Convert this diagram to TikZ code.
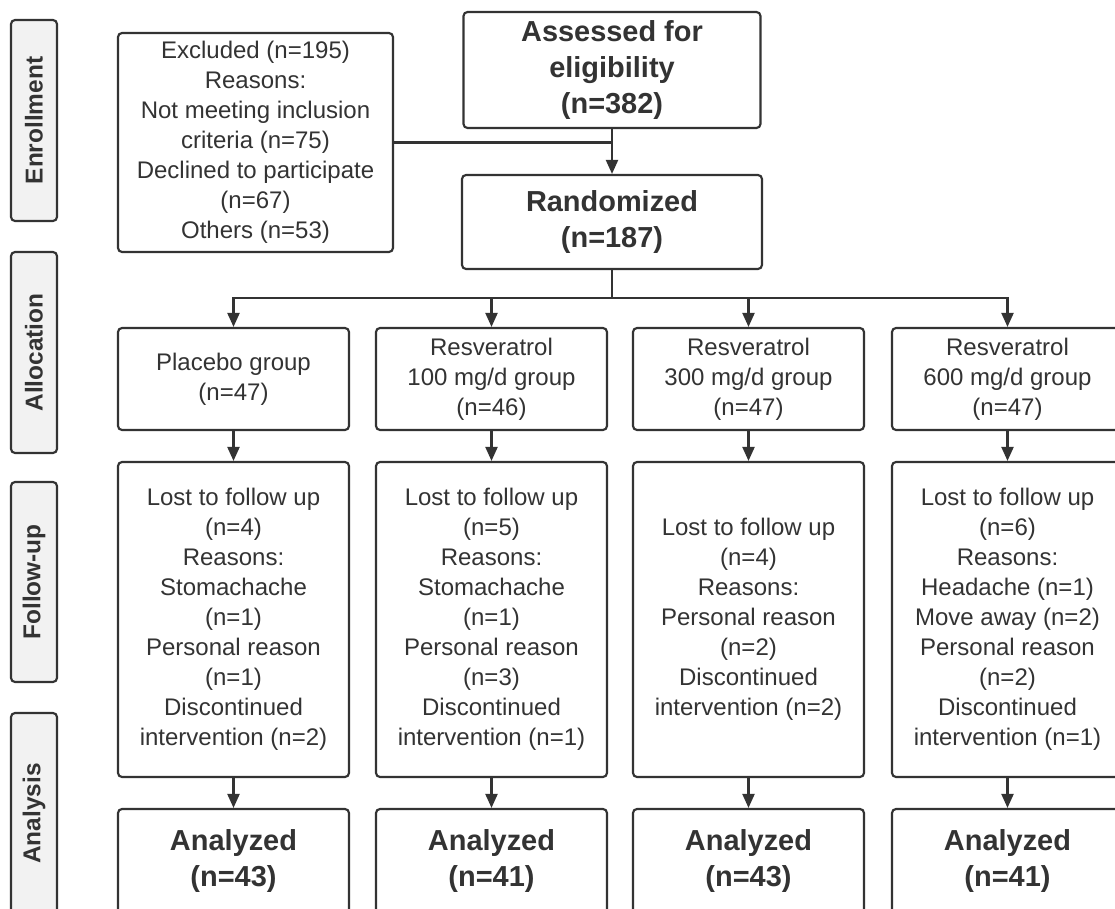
\documentclass[tikz,border=0pt]{standalone}
\usepackage{fontspec}
\setmainfont{Liberation Sans}
\usetikzlibrary{arrows.meta}
\definecolor{ln}{HTML}{333333}
\definecolor{tx}{HTML}{333333}
\definecolor{stg}{HTML}{F2F2F2}
\tikzset{
  sz/.style 2 args={minimum width={#1*0.75pt}, minimum height={#2*0.75pt}},
  box/.style={draw=ln, line width=1.6pt, rounded corners=3pt, fill=white, text=tx, align=center, inner sep=0pt, font=\fontsize{18}{22.5}\selectfont},
  bbox/.style={box, font=\fontsize{21.7}{27}\selectfont\bfseries},
  stage/.style={box, fill=stg, font=\fontsize{18.3}{20}\selectfont\bfseries, rotate=90},
  arr/.style={draw=ln, line width=1.6pt, -{Triangle[length=10.5pt,width=9pt]}},
  conn/.style={draw=ln, line width=1.6pt},
}
\begin{document}
\begin{tikzpicture}[x=0.75pt,y=-0.75pt]
\useasboundingbox (0,0) rectangle (1115,909);
\clip (0,0) rectangle (1115,909);
\fill[white] (0,0) rectangle (1115,909);

% stage labels
\node[stage, sz={201}{46}] (s1) at (34,120.5) {Enrollment};
\node[stage, sz={201}{46}] (s2) at (34,352.5) {Allocation};
\node[stage, sz={200}{46}] (s3) at (34,582) {Follow-up};
\node[stage, sz={201}{46}] (s4) at (34,813.5) {Analysis};

% enrollment
\node[bbox, sz={297}{116}] (assess) at (612,70) {Assessed for\\eligibility\\(n=382)};
\node[bbox, sz={300}{94}] (rand) at (612,222) {Randomized\\(n=187)};
\node[box, sz={275}{219}] (excl) at (255.5,142.5) {Excluded (n=195)\\Reasons:\\Not meeting inclusion\\criteria (n=75)\\Declined to participate\\(n=67)\\Others (n=53)};

% allocation
\node[box, sz={231}{102}] (g1) at (233.5,379) {Placebo group\\(n=47)};
\node[box, sz={231}{102}] (g2) at (491.5,379) {Resveratrol\\100 mg/d group\\(n=46)};
\node[box, sz={231}{102}] (g3) at (748.5,379) {Resveratrol\\300 mg/d group\\(n=47)};
\node[box, sz={231}{102}] (g4) at (1007.5,379) {Resveratrol\\600 mg/d group\\(n=47)};

% follow-up
\node[box, sz={231}{315}] (f1) at (233.5,619.5) {Lost to follow up\\(n=4)\\Reasons:\\Stomachache\\(n=1)\\Personal reason\\(n=1)\\Discontinued\\intervention (n=2)};
\node[box, sz={231}{315}] (f2) at (491.5,619.5) {Lost to follow up\\(n=5)\\Reasons:\\Stomachache\\(n=1)\\Personal reason\\(n=3)\\Discontinued\\intervention (n=1)};
\node[box, sz={231}{315}] (f3) at (748.5,619.5) {Lost to follow up\\(n=4)\\Reasons:\\Personal reason\\(n=2)\\Discontinued\\intervention (n=2)};
\node[box, sz={231}{315}] (f4) at (1007.5,619.5) {Lost to follow up\\(n=6)\\Reasons:\\Headache (n=1)\\Move away (n=2)\\Personal reason\\(n=2)\\Discontinued\\intervention (n=1)};

% analysis
\node[bbox, sz={231}{104}] (a1) at (233.5,861) {Analyzed\\(n=43)};
\node[bbox, sz={231}{104}] (a2) at (491.5,861) {Analyzed\\(n=41)};
\node[bbox, sz={231}{104}] (a3) at (748.5,861) {Analyzed\\(n=43)};
\node[bbox, sz={231}{104}] (a4) at (1007.5,861) {Analyzed\\(n=41)};

% connectors
\draw[arr] (assess.south) -- (rand.north);
\draw[conn] (excl.east) -- (excl.east -| assess.south);
\coordinate (br) at (612,298);
\foreach \g in {g1,g2,g3,g4}{
  \draw[arr] (rand.south) -- (rand.south |- br) -| (\g.north);
}
\draw[arr] (g1.south) -- (f1.north);
\draw[arr] (g2.south) -- (f2.north);
\draw[arr] (g3.south) -- (f3.north);
\draw[arr] (g4.south) -- (f4.north);
\draw[arr] (f1.south) -- (a1.north);
\draw[arr] (f2.south) -- (a2.north);
\draw[arr] (f3.south) -- (a3.north);
\draw[arr] (f4.south) -- (a4.north);
\end{tikzpicture}
\end{document}
